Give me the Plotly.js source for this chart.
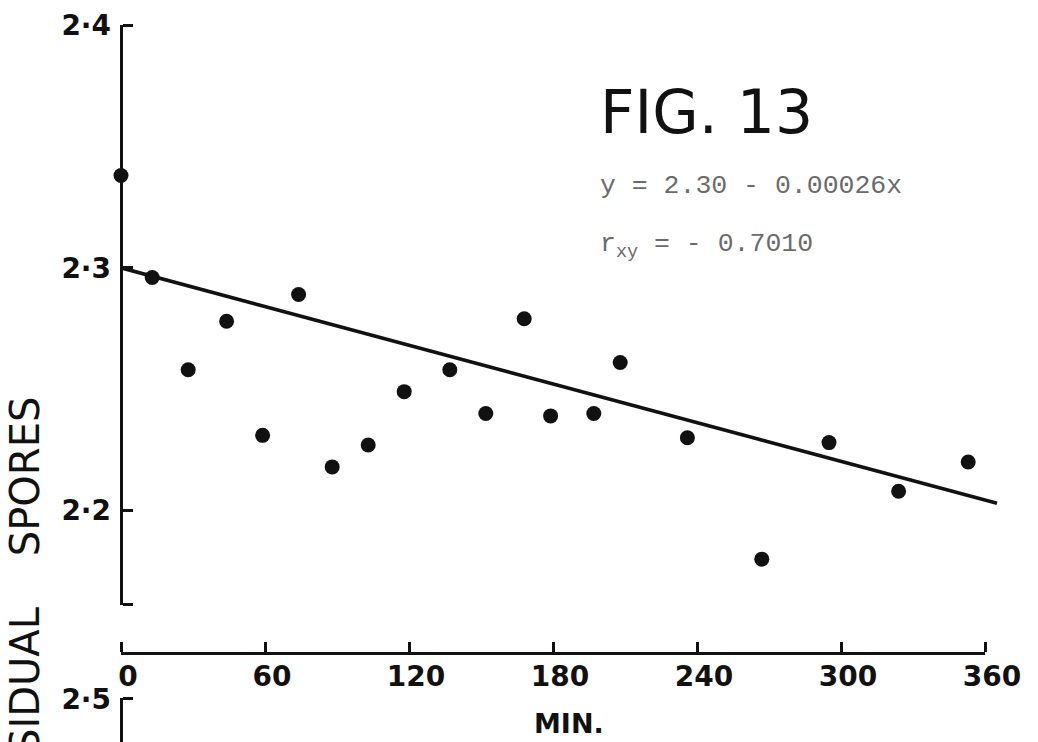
<!DOCTYPE html>
<html>
<head>
<meta charset="utf-8">
<script src="https://cdn.plot.ly/plotly-3.0.1.min.js"></script>
<style>html,body{margin:0;padding:0;background:#fff;}#chart{width:1038px;height:742px;}</style>
</head>
<body>
<div id="chart"></div>
<script>
// ---- data ----
const timeMin = [0, 13, 28, 44, 59, 74, 88, 103, 118, 137, 152, 168, 179, 197, 208, 236, 267, 295, 324, 353];
const logSpores = [2.338, 2.296, 2.258, 2.278, 2.231, 2.289, 2.218, 2.227, 2.249, 2.258, 2.240, 2.279, 2.239, 2.240, 2.261, 2.230, 2.180, 2.228, 2.208, 2.220];
const fitX = [0, 365];
const fitY = [2.300, 2.203];
const xTicks = [0, 60, 120, 180, 240, 300, 360];
const xTickText = ['0', '60', '120', '180', '240', '300', '360'];
const yTicks = [2.4, 2.3, 2.2];
const yTickText = ['2·4', '2·3', '2·2'];
const y2Ticks = [2.5];
const y2TickText = ['2·5'];
const figTitle = 'FIG. 13';
const equationText = 'y = 2.30 - 0.00026x';
const corrText = 'r<sub>xy</sub> = - 0.7010';
const xTitle = 'MIN.';
const yTitle = 'RESIDUAL\u00a0\u00a0\u00a0\u00a0SPORES';

// ---- layout geometry ----
const W = 1038, H = 742;
const L = 121, R = 30, T = 25, B = 0;
const PW = W - L - R, PH = H - T - B;
const pxX = px => (px - L) / PW;
const pxY = py => (H - B - py) / PH;
const xAxisEnd = 985;            // pixel where 360 sits
const xAxisPx = 653;             // pixel row of the time axis
const pxPerMin = (xAxisEnd - L) / 360;
const yBottomPx = 605;
const yPxPerUnit = 2428;
const yTop = 2.4;
const yBottom = yTop - (yBottomPx - T) / yPxPerUnit;
const y2TopPx = 698;
const y2Bottom = 2.5 - (H - y2TopPx) / yPxPerUnit;

const ink = '#111111';
const font = 'DejaVu Sans, Liberation Sans, sans-serif';

const traces = [
  {
    x: fitX, y: fitY, xaxis: 'x2', yaxis: 'y',
    mode: 'lines', line: {color: ink, width: 3.6},
    hoverinfo: 'skip', showlegend: false
  },
  {
    x: timeMin, y: logSpores, xaxis: 'x', yaxis: 'y',
    mode: 'markers', marker: {color: ink, size: 15},
    cliponaxis: false, showlegend: false
  },
  { x: [null], y: [null], xaxis: 'x', yaxis: 'y2', mode: 'markers', showlegend: false, hoverinfo: 'skip' },
  { x: [null], y: [null], xaxis: 'x4', yaxis: 'y5', mode: 'markers', showlegend: false, hoverinfo: 'skip' },
  { x: [null], y: [null], xaxis: 'x', yaxis: 'y6', mode: 'markers', showlegend: false, hoverinfo: 'skip' }
];

// axes that carry only the tick labels
const labelAxis = {
  showgrid: false, zeroline: false, showline: false, ticks: '',
  tickfont: {family: font, size: 28, color: ink, weight: 'bold'},
  fixedrange: true, tickmode: 'array'
};
// axes that carry the drawn line and the inward ticks
const lineAxis = {
  showgrid: false, zeroline: false, showline: true,
  linecolor: ink, linewidth: 3,
  ticks: 'outside', ticklen: 10, tickwidth: 3, tickcolor: ink,
  showticklabels: false, fixedrange: true, tickmode: 'array'
};

const xDomain = [0, (xAxisEnd - L) / PW];
const yDomain = [pxY(yBottomPx), 1];
const y2Domain = [0, pxY(y2TopPx)];
const y2Range = [y2Bottom, 2.5004];
const yRange = [yBottom, yTop];

const layout = {
  width: W, height: H,
  margin: {l: L, r: R, t: T, b: B, pad: 0},
  paper_bgcolor: '#ffffff', plot_bgcolor: 'rgba(0,0,0,0)',
  showlegend: false,
  hovermode: false,
  xaxis: Object.assign({}, labelAxis, {
    domain: xDomain, range: [0, 360],
    tickvals: xTicks, ticktext: xTickText,
    anchor: 'free', position: pxY(xAxisPx), side: 'bottom',
    ticklabelstandoff: 4, ticklabelshift: 7
  }),
  xaxis4: Object.assign({}, lineAxis, {
    overlaying: 'x', range: [0, 360],
    tickvals: xTicks,
    anchor: 'free', position: pxY(xAxisPx), side: 'top'
  }),
  xaxis2: {
    domain: [0, 1], range: [0, PW / pxPerMin],
    visible: false, anchor: 'y', fixedrange: true
  },
  yaxis: Object.assign({}, labelAxis, {
    domain: yDomain, range: yRange,
    tickvals: yTicks, ticktext: yTickText,
    anchor: 'free', position: 0, side: 'left',
    ticklabelstandoff: 10
  }),
  yaxis5: Object.assign({}, lineAxis, {
    overlaying: 'y', range: yRange,
    tickvals: yTicks.concat([yBottom + 0.0004]),
    anchor: 'free', position: 0, side: 'right'
  }),
  yaxis2: Object.assign({}, labelAxis, {
    domain: y2Domain, range: y2Range,
    tickvals: y2Ticks, ticktext: y2TickText,
    anchor: 'free', position: 0, side: 'left',
    ticklabelstandoff: 10
  }),
  yaxis6: Object.assign({}, lineAxis, {
    overlaying: 'y2', range: y2Range,
    tickvals: y2Ticks,
    anchor: 'free', position: 0, side: 'right'
  }),
  annotations: [
    {
      text: figTitle, xref: 'paper', yref: 'paper',
      x: pxX(598), y: pxY(112), xanchor: 'left', yanchor: 'middle',
      showarrow: false, font: {family: font, size: 60, color: ink}
    },
    {
      text: equationText, xref: 'paper', yref: 'paper',
      x: pxX(598), y: pxY(186), xanchor: 'left', yanchor: 'middle',
      showarrow: false,
      font: {family: 'Courier New, Liberation Mono, monospace', size: 26.5, color: '#6b6b6b'}
    },
    {
      text: corrText, xref: 'paper', yref: 'paper',
      x: pxX(598), y: pxY(246), xanchor: 'left', yanchor: 'middle',
      showarrow: false,
      font: {family: 'Courier New, Liberation Mono, monospace', size: 26.5, color: '#6b6b6b'}
    },
    {
      text: xTitle, xref: 'paper', yref: 'paper',
      x: pxX(569), y: pxY(723), xanchor: 'center', yanchor: 'middle',
      showarrow: false, font: {family: font, size: 27, color: ink, weight: 'bold'}
    },
    {
      text: yTitle, xref: 'paper', yref: 'paper', textangle: -90,
      x: pxX(25), y: pxY(395), xanchor: 'center', yanchor: 'top',
      showarrow: false, font: {family: font, size: 40, color: ink}
    }
  ]
};

Plotly.newPlot('chart', traces, layout, {staticPlot: true, displayModeBar: false});
</script>
</body>
</html>
